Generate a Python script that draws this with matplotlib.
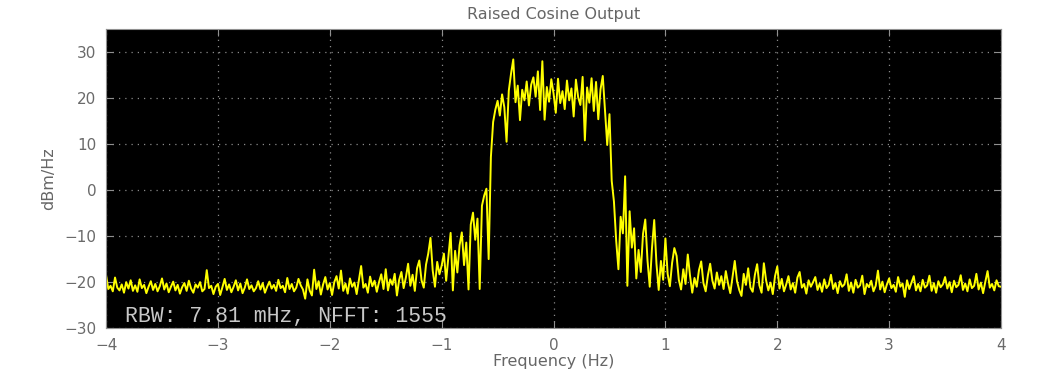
import numpy as np
import matplotlib
matplotlib.use("Agg")
import matplotlib.pyplot as plt

# Frequency axis (Hz): evenly spaced spectrum bins
freq_start = -4.0
freq_stop = 4.0

# Power spectral density (dBm/Hz), 0.02 Hz apart
psd_left = [
    # -4.00 .. -3.52
    -18.5, -21.5, -20.8, -22.0, -19.0, -21.2, -21.8, -20.5, -22.3, -20.0, -21.4, -19.6, -21.9,
    -20.7, -22.1, -19.4, -21.3, -20.6, -22.4, -21.0, -19.8, -21.7, -20.4, -22.0, -20.9,
    # -3.50 .. -3.02
    -19.2, -21.6, -20.3, -22.2, -21.0, -19.9, -21.8, -20.6, -22.5, -21.1, -20.2, -21.9, -19.7,
    -21.4, -22.3, -20.5, -21.2, -20.0, -22.0, -21.5, -17.4, -21.3, -20.8, -22.6, -21.0,
    # -3.00 .. -2.52
    -20.4, -22.8, -21.1, -19.3, -21.7, -20.5, -22.2, -21.0, -19.6, -21.8, -20.3, -22.4, -21.2,
    -19.4, -21.5, -20.7, -22.0, -21.3, -19.8, -21.6, -20.2, -22.3, -21.0, -19.9, -21.4,
    # -2.50 .. -2.02
    -20.6, -21.9, -19.5, -21.3, -20.8, -22.2, -19.1, -21.5, -20.4, -22.0, -21.2, -19.3, -20.7,
    -21.6, -23.6, -19.4, -21.8, -22.9, -17.3, -21.5, -19.8, -22.7, -20.5, -18.9, -21.6,
    # -2.00 .. -1.52
    -20.2, -22.8, -20.0, -18.7, -21.4, -17.5, -21.9, -20.3, -22.5, -19.2, -21.0, -20.1, -22.6,
    -19.6, -16.5, -21.2, -20.4, -22.3, -18.8, -20.9, -19.7, -22.1, -20.0, -18.3, -21.5,
    # -1.50 .. -1.02
    -17.2, -21.8, -19.4, -20.6, -18.2, -22.9, -19.5, -17.8, -21.3, -19.0, -16.0, -20.8, -18.4,
    -21.9, -17.0, -15.3, -19.6, -21.2, -16.2, -13.8, -10.4, -17.5, -21.0, -15.6, -18.3,
]

psd_center = [
    # -1.00 .. -0.52
    -16.4, -13.8, -19.7, -14.5, -9.3, -21.8, -13.2, -17.9, -12.0, -9.2, -16.3, -11.4, -21.6,
    -7.5, -4.9, -10.8, -6.2, -21.5, -3.4, -1.2, 0.3, -15.0, 7.2, 14.8, 17.5,
    # -0.50 .. -0.02
    19.4, 16.2, 20.8, 18.0, 10.5, 21.6, 25.3, 28.4, 19.1, 22.7, 15.2, 21.8, 19.5,
    23.6, 18.4, 22.9, 24.5, 20.3, 25.8, 17.4, 28.0, 15.3, 22.4, 19.2, 24.1,
    # 0.00 .. 0.48
    21.0, 16.8, 24.2, 18.9, 21.5, 17.6, 23.8, 19.5, 22.1, 16.0, 24.0, 20.2, 18.5,
    24.6, 10.8, 22.3, 19.0, 24.3, 17.2, 23.5, 15.4, 21.9, 24.8, 17.3, 9.8,
    # 0.50 .. 0.98
    16.5, 2.0, -2.5, -11.0, -17.2, -5.8, -9.4, 3.0, -20.8, -4.6, -12.5, -8.3, -19.2,
    -13.0, -17.8, -9.5, -6.4, -15.3, -21.0, -12.6, -6.5, -16.0, -21.7, -15.4, -19.5,
]

psd_right = [
    # 1.00 .. 1.48
    -10.5, -18.2, -20.9, -15.8, -12.6, -14.3, -19.5, -21.6, -17.2, -20.4, -14.0, -18.6, -22.3,
    -19.1, -21.0, -17.4, -15.5, -20.2, -22.0, -18.5, -16.0, -19.7, -21.4, -17.9, -20.6,
    # 1.50 .. 1.98
    -18.7, -21.5, -17.6, -20.3, -22.4, -18.9, -15.4, -19.8, -21.7, -23.0, -18.2, -20.6, -17.0,
    -21.2, -22.1, -18.4, -16.1, -20.7, -22.3, -15.9, -19.6, -21.8, -20.1, -22.6, -18.7,
    # 2.00 .. 2.48
    -16.6, -21.4, -19.3, -22.0, -20.5, -18.7, -21.6, -20.2, -22.3, -19.0, -17.8, -21.2, -20.4,
    -22.5, -19.6, -21.0, -20.0, -18.9, -21.7, -20.3, -22.1, -19.4, -21.3, -20.6, -18.4,
    # 2.50 .. 2.98
    -21.5, -20.2, -22.4, -19.8, -21.0, -20.5, -18.3, -21.9, -20.1, -22.3, -19.5, -21.2, -20.7,
    -18.6, -22.6, -20.4, -21.1, -19.7, -22.0, -20.8, -17.5, -21.6, -19.9, -22.2, -20.5,
    # 3.00 .. 3.48
    -19.2, -21.3, -20.6, -22.1, -18.9, -21.0, -20.3, -23.2, -19.6, -21.5, -20.1, -18.7, -21.8,
    -20.4, -22.0, -19.5, -21.2, -20.7, -18.6, -21.9, -20.2, -22.3, -19.8, -21.1, -20.5,
    # 3.50 .. 4.00
    -18.9, -21.4, -20.0, -22.2, -19.7, -21.1, -20.6, -18.5, -21.7, -20.3, -22.0, -19.4, -21.3,
    -20.8, -18.2, -21.6, -20.1, -22.4, -19.9, -17.6, -21.2, -20.4, -21.8, -19.6, -20.9,
    -21.0,
]

x_ticks = [-4, -3, -2, -1, 0, 1, 2, 3, 4]
y_ticks = [-30, -20, -10, 0, 10, 20, 30]
info_text = "RBW: 7.81 mHz, NFFT: 1555"

psd = np.array(psd_left + psd_center + psd_right)
freq = np.linspace(freq_start, freq_stop, len(psd))

fig = plt.figure(figsize=(10.4, 3.82), dpi=100)
ax = fig.add_axes([0.102, 0.141, 0.8605, 0.783])
ax.set_facecolor("black")

ax.plot(freq, psd, color="#ffff00", lw=1.4)

ax.set_xlim(freq_start, freq_stop)
ax.set_ylim(-30, 35)
ax.set_xticks(x_ticks)
ax.set_yticks(y_ticks)

ax.grid(True, color="#8a8a8a", linestyle=(0, (1, 4)), lw=0.9)
ax.tick_params(direction="in", top=True, right=True, length=5, color="#909090",
               labelcolor="#6a6a6a", labelsize=11, pad=7)
for sp in ax.spines.values():
    sp.set_color("#909090")

ax.set_title("Raised Cosine Output", color="#666666", fontsize=11.5, pad=7)
ax.set_xlabel("Frequency (Hz)", color="#666666", fontsize=11.5, labelpad=1)
ax.set_ylabel("dBm/Hz", color="#666666", fontsize=11.5, labelpad=6)

ax.text(-3.83, -27.4, info_text, color="#c8c8c8", fontsize=15.5,
        family="Liberation Mono", va="center", ha="left")

fig.savefig("out.png", dpi=100, facecolor="white")
